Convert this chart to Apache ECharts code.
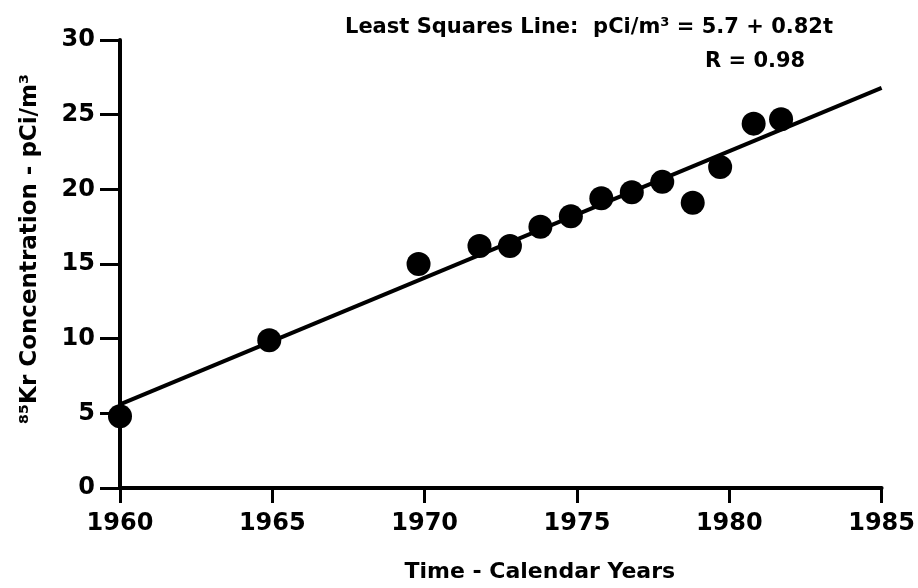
<!DOCTYPE html>
<html>
<head>
<meta charset="utf-8">
<script src="https://cdn.jsdelivr.net/npm/echarts@6/dist/echarts.min.js"></script>
<style>
  html, body { margin: 0; padding: 0; background: #fff; }
  #chart { width: 918px; height: 588px; }
</style>
</head>
<body>
<div id="chart"></div>
<script>
// measured points (year, pCi/m3)
var years = [1960, 1964.9, 1969.8, 1971.8, 1972.8, 1973.8, 1974.8, 1975.8, 1976.8, 1977.8, 1978.8, 1979.7, 1980.8, 1981.7];
var concs = [4.8, 9.9, 15.0, 16.2, 16.2, 17.5, 18.2, 19.4, 19.8, 20.5, 19.1, 21.5, 24.4, 24.7];

// least squares line as drawn, end points
var fitYears = [1960, 1985];
var fitConcs = [5.6, 26.8];

var xTicks = [1960, 1965, 1970, 1975, 1980, 1985];
var yTicks = [0, 5, 10, 15, 20, 25, 30];

var font = 'DejaVu Sans';

var chart = echarts.init(document.getElementById('chart'));

chart.setOption({
  animation: false,
  backgroundColor: '#fff',
  title: [{
    text: 'Least Squares Line:  pCi/m³ = 5.7 + 0.82t',
    left: 340,
    top: 12,
    textStyle: { fontFamily: font, fontSize: 21, fontWeight: 'bold', color: '#000' }
  }, {
    text: 'R = 0.98',
    left: 700,
    top: 46,
    textStyle: { fontFamily: font, fontSize: 21, fontWeight: 'bold', color: '#000' }
  }],
  grid: { left: 120, right: 36, top: 40, bottom: 98 },
  xAxis: {
    type: 'value',
    min: xTicks[0],
    max: xTicks[xTicks.length - 1],
    interval: 5,
    name: 'Time - Calendar Years',
    nameLocation: 'middle',
    nameGap: 73,
    nameTextStyle: {
      fontFamily: font, fontSize: 22, fontWeight: 'bold', color: '#000',
      padding: [0, 0, 0, 78]
    },
    splitLine: { show: false },
    axisLine: { lineStyle: { color: '#000', width: 4 } },
    axisTick: { length: 15, lineStyle: { color: '#000', width: 3 } },
    axisLabel: {
      margin: 24,
      fontFamily: font, fontSize: 24, fontWeight: 'bold', color: '#000',
      formatter: function (v) { return String(v); }
    }
  },
  yAxis: {
    type: 'value',
    min: yTicks[0],
    max: yTicks[yTicks.length - 1],
    interval: 5,
    name: '⁸⁵Kr Concentration - pCi/m³',
    nameLocation: 'middle',
    nameGap: 78,
    nameRotate: 90,
    nameTextStyle: {
      fontFamily: font, fontSize: 23, fontWeight: 'bold', color: '#000',
      padding: [0, 0, 0, 30]
    },
    splitLine: { show: false },
    axisLine: { lineStyle: { color: '#000', width: 4 } },
    axisTick: { length: 20, lineStyle: { color: '#000', width: 3 } },
    axisLabel: { margin: 25, fontFamily: font, fontSize: 24, fontWeight: 'bold', color: '#000' }
  },
  series: [{
    type: 'line',
    data: fitYears.map(function (y, i) { return [y, fitConcs[i]]; }),
    symbol: 'none',
    lineStyle: { color: '#000', width: 4 },
    z: 2
  }, {
    type: 'scatter',
    data: years.map(function (y, i) { return [y, concs[i]]; }),
    symbol: 'circle',
    symbolSize: 24,
    itemStyle: { color: '#000', opacity: 1 },
    z: 3
  }]
});
</script>
</body>
</html>
